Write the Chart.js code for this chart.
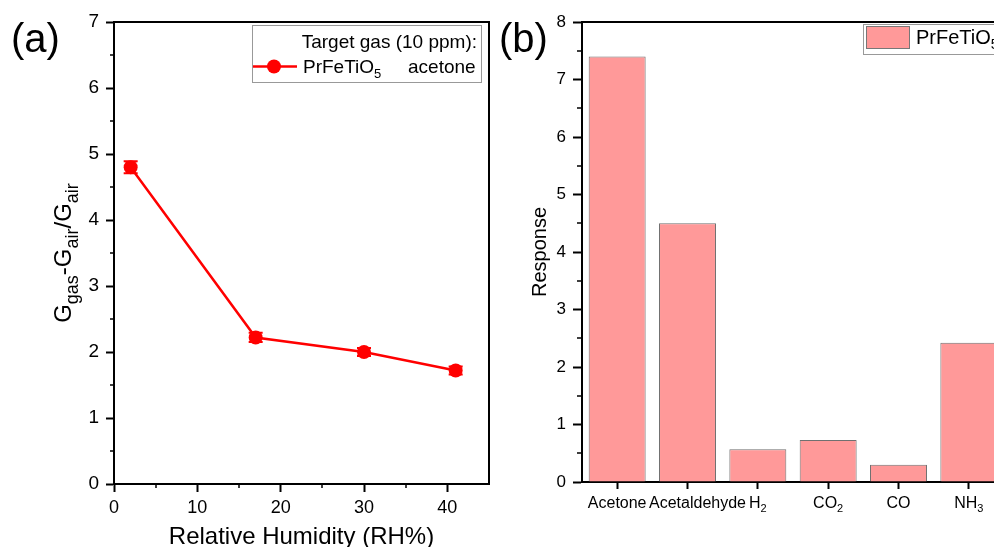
<!DOCTYPE html>
<html>
<head>
<meta charset="utf-8">
<script src="https://cdn.jsdelivr.net/npm/chart.js@4.4.1/dist/chart.umd.min.js"></script>
<style>
  html, body { margin: 0; padding: 0; background: #fff; overflow: hidden; width: 994px; height: 547px; }
  #wrapA { position: absolute; left: 0; top: 0; width: 500px; height: 547px; }
  #wrapB { position: absolute; left: 490px; top: 0; width: 530px; height: 547px; }
</style>
</head>
<body>
<div id="wrapA"><canvas id="chartA" width="500" height="547"></canvas></div>
<div id="wrapB"><canvas id="chartB" width="530" height="547"></canvas></div>
<script>
  const FONT = 'Arial, "Liberation Sans", sans-serif';

  // (a) response vs relative humidity
  const humidity = [2, 17, 30, 41];
  const responseA = [4.8, 2.22, 2.0, 1.72];
  const errorA = [0.09, 0.07, 0.06, 0.06];

  // (b) response to different gases
  const gases = ['Acetone', 'Acetaldehyde', 'H₂', 'CO₂', 'CO', 'NH₃'];
  const responseB = [7.4, 4.5, 0.57, 0.73, 0.3, 2.42];

  const seriesName = 'PrFeTiO₅';
  const legendTitleA = 'Target gas (10 ppm):';
  const legendGasA = 'acetone';
  const xTitleA = 'Relative Humidity (RH%)';
  const yTitleA = [
    { t: 'G' }, { t: 'gas', sub: true }, { t: '-G' }, { t: 'air', sub: true }, { t: '/G' }, { t: 'air', sub: true }
  ];
  const yTitleB = 'Response';

  // split unicode subscript digits into runs so they can be drawn small and lowered
  function textRuns(str) {
    const subs = '₀₁₂₃₄₅₆₇₈₉';
    const out = [];
    for (const ch of str) {
      const k = subs.indexOf(ch);
      const sub = k >= 0;
      const c = sub ? String(k) : ch;
      const last = out[out.length - 1];
      if (last && last.sub === sub) last.t += c;
      else out.push({ t: c, sub: sub });
    }
    return out;
  }

  function drawRich(ctx, runs, x, y, size, align, subSize, subDrop) {
    const fMain = size + 'px ' + FONT;
    const fSub = subSize + 'px ' + FONT;
    let total = 0;
    const widths = runs.map(r => {
      ctx.font = r.sub ? fSub : fMain;
      const w = ctx.measureText(r.t).width;
      total += w;
      return w;
    });
    let cx = align === 'center' ? x - total / 2 : align === 'right' ? x - total : x;
    ctx.textAlign = 'left';
    ctx.textBaseline = 'alphabetic';
    runs.forEach((r, i) => {
      ctx.font = r.sub ? fSub : fMain;
      ctx.fillText(r.t, cx, r.sub ? y + subDrop : y);
      cx += widths[i];
    });
    return total;
  }

  // ---------- chart (a) ----------
  const decorA = {
    id: 'decorA',
    afterDatasetsDraw(chart) {
      const { ctx, scales: { x, y } } = chart;
      ctx.save();
      ctx.strokeStyle = '#ff0000';
      ctx.lineWidth = 2;
      humidity.forEach((h, i) => {
        const px = x.getPixelForValue(h);
        const y1 = y.getPixelForValue(responseA[i] - errorA[i]);
        const y2 = y.getPixelForValue(responseA[i] + errorA[i]);
        ctx.beginPath();
        ctx.moveTo(px, y1); ctx.lineTo(px, y2);
        ctx.moveTo(px - 7, y1); ctx.lineTo(px + 7, y1);
        ctx.moveTo(px - 7, y2); ctx.lineTo(px + 7, y2);
        ctx.stroke();
      });
      ctx.restore();
    },
    afterDraw(chart) {
      const { ctx, chartArea: a, scales: { x, y } } = chart;
      ctx.save();
      // frame top + right
      ctx.strokeStyle = '#000';
      ctx.lineWidth = 2;
      ctx.beginPath();
      ctx.moveTo(a.left - 1, a.top);
      ctx.lineTo(a.right, a.top);
      ctx.lineTo(a.right, a.bottom + 1);
      ctx.stroke();

      // minor ticks
      ctx.lineWidth = 1.5;
      ctx.beginPath();
      for (let v = 5; v < 45; v += 10) {
        const px = Math.round(x.getPixelForValue(v));
        ctx.moveTo(px, a.bottom); ctx.lineTo(px, a.bottom + 4);
      }
      for (let v = 0.5; v < 7; v += 1) {
        const py = Math.round(y.getPixelForValue(v));
        ctx.moveTo(a.left - 4, py); ctx.lineTo(a.left, py);
      }
      ctx.stroke();

      // legend
      ctx.strokeStyle = '#999';
      ctx.lineWidth = 1;
      ctx.strokeRect(252.5, 25.5, 229, 57);
      ctx.fillStyle = '#000';
      ctx.font = '19px ' + FONT;
      ctx.textAlign = 'right';
      ctx.textBaseline = 'alphabetic';
      ctx.fillText(legendTitleA, 477, 48);
      ctx.strokeStyle = '#ff0000';
      ctx.lineWidth = 2.5;
      ctx.beginPath(); ctx.moveTo(253, 66.5); ctx.lineTo(297, 66.5); ctx.stroke();
      ctx.fillStyle = '#ff0000';
      ctx.beginPath(); ctx.arc(274, 66.5, 7, 0, Math.PI * 2); ctx.fill();
      ctx.fillStyle = '#000';
      drawRich(ctx, textRuns(seriesName), 303, 73, 19, 'left', 13, 5);
      ctx.font = '19px ' + FONT;
      ctx.textAlign = 'left';
      ctx.fillText(legendGasA, 408, 73);

      // y title with subscripts
      ctx.save();
      ctx.translate(71, (a.top + a.bottom) / 2);
      ctx.rotate(-Math.PI / 2);
      drawRich(ctx, yTitleA, 0, 0, 24, 'center', 18, 7);
      ctx.restore();

      // panel label
      ctx.font = '40px ' + FONT;
      ctx.textAlign = 'left';
      ctx.fillText('(a)', 11, 52);
      ctx.restore();
    }
  };

  new Chart(document.getElementById('chartA'), {
    type: 'line',
    data: {
      datasets: [{
        label: seriesName,
        data: humidity.map((h, i) => ({ x: h, y: responseA[i] })),
        borderColor: '#ff0000',
        backgroundColor: '#ff0000',
        borderWidth: 2.5,
        pointRadius: 7,
        pointBorderWidth: 0,
        tension: 0
      }]
    },
    options: {
      responsive: false,
      animation: false,
      layout: { padding: { top: 22, right: 11, left: 0, bottom: 0 } },
      plugins: { legend: { display: false }, tooltip: { enabled: false } },
      scales: {
        x: {
          type: 'linear', min: 0, max: 45,
          ticks: { stepSize: 10, includeBounds: false, maxRotation: 0, padding: 5, color: '#000', font: { family: FONT, size: 18 } },
          grid: { drawOnChartArea: false, drawTicks: true, tickLength: 8, tickWidth: 2, tickColor: '#000' },
          border: { display: true, color: '#000', width: 2 },
          title: { display: true, text: xTitleA, color: '#000', padding: 0, font: { family: FONT, size: 24, lineHeight: 0.8 } },
          afterFit: s => { s.height = 63; }
        },
        y: {
          min: 0, max: 7,
          ticks: { stepSize: 1, padding: 7, color: '#000', font: { family: FONT, size: 19 } },
          grid: { drawOnChartArea: false, drawTicks: true, tickLength: 8, tickWidth: 2, tickColor: '#000' },
          border: { display: true, color: '#000', width: 2 },
          afterFit: s => { s.width = 114; }
        }
      }
    },
    plugins: [decorA]
  });

  // ---------- chart (b) ----------
  const decorB = {
    id: 'decorB',
    afterDraw(chart) {
      const { ctx, chartArea: a, scales: { x, y } } = chart;
      ctx.save();
      ctx.strokeStyle = '#000';
      ctx.lineWidth = 2;
      ctx.beginPath();
      ctx.moveTo(a.left - 1, a.top);
      ctx.lineTo(a.right, a.top);
      ctx.stroke();

      // minor ticks
      ctx.lineWidth = 1.5;
      ctx.beginPath();
      for (let v = 0.5; v < 8; v += 1) {
        const py = Math.round(y.getPixelForValue(v));
        ctx.moveTo(a.left - 5, py); ctx.lineTo(a.left, py);
      }
      ctx.stroke();

      // category labels with subscripts
      ctx.fillStyle = '#000';
      gases.forEach((g, i) => {
        const px = x.getPixelForTick(i) + (g === 'Acetaldehyde' ? 10 : 0);
        drawRich(ctx, textRuns(g), px, a.bottom + 26, 16, 'center', 11, 4);
      });

      // legend
      const bx = 373;
      ctx.strokeStyle = '#999';
      ctx.lineWidth = 1;
      ctx.strokeRect(bx + 0.5, 24.5, 160, 30);
      ctx.fillStyle = '#ff9999';
      ctx.fillRect(bx + 3, 26, 43, 22);
      ctx.strokeStyle = '#777';
      ctx.strokeRect(bx + 3.5, 26.5, 43, 22);
      ctx.fillStyle = '#000';
      drawRich(ctx, textRuns(seriesName), bx + 53, 44, 20, 'left', 14, 5);

      // panel label
      ctx.font = '40px ' + FONT;
      ctx.textAlign = 'left';
      ctx.fillText('(b)', 9, 52);
      ctx.restore();
    }
  };

  new Chart(document.getElementById('chartB'), {
    type: 'bar',
    data: {
      labels: gases,
      datasets: [{
        label: seriesName,
        data: responseB,
        backgroundColor: '#ff9999',
        borderColor: '#707070',
        borderWidth: 1,
        barPercentage: 0.81,
        categoryPercentage: 1.0
      }]
    },
    options: {
      responsive: false,
      animation: false,
      layout: { padding: { top: 22, right: 16, left: 0, bottom: 0 } },
      plugins: { legend: { display: false }, tooltip: { enabled: false } },
      scales: {
        x: {
          ticks: { display: false },
          grid: { offset: false, drawOnChartArea: false, drawTicks: true, tickLength: 7, tickWidth: 2, tickColor: '#000' },
          border: { display: true, color: '#000', width: 2 },
          afterFit: s => { s.height = 65; }
        },
        y: {
          min: 0, max: 8,
          ticks: { stepSize: 1, padding: 7, color: '#000', font: { family: FONT, size: 17 } },
          grid: { drawOnChartArea: false, drawTicks: true, tickLength: 9, tickWidth: 2, tickColor: '#000' },
          border: { display: true, color: '#000', width: 2 },
          title: { display: true, text: yTitleB, color: '#000', padding: { top: 38, bottom: 0 }, font: { family: FONT, size: 20 } },
          afterFit: s => { s.width = 92; }
        }
      }
    },
    plugins: [decorB]
  });
</script>
</body>
</html>
